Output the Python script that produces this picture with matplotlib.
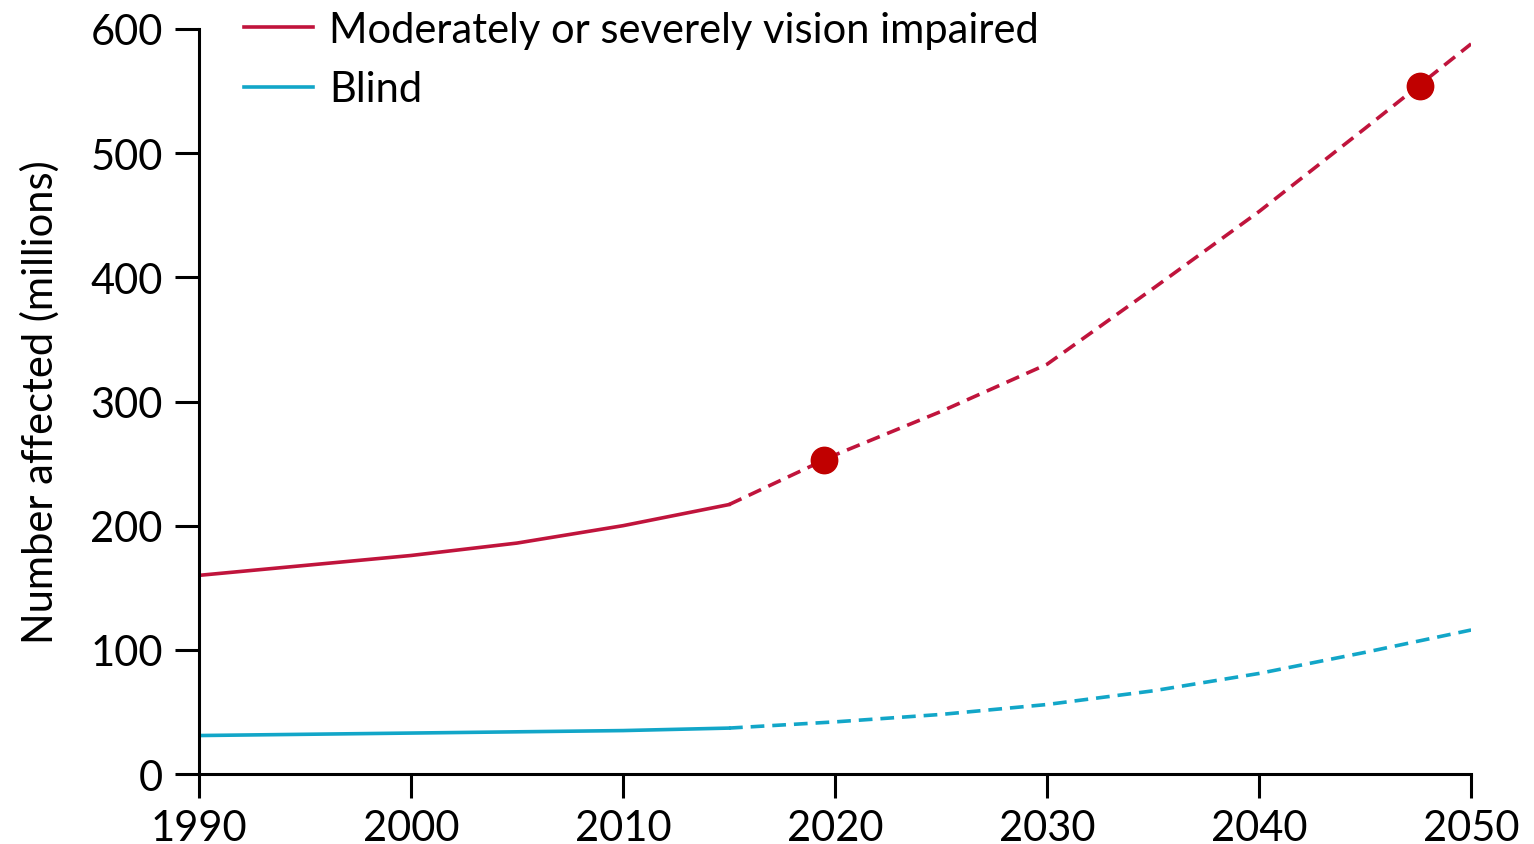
#!/usr/bin/env python3
"""
Global vision impairment: estimated and projected number affected, 1990-2050.
"""

import matplotlib
matplotlib.use("Agg")
import matplotlib.pyplot as plt

# Estimated (solid) and projected (dashed) values, millions
years_est = [1990, 1995, 2000, 2005, 2010, 2015]
mvi_est = [160, 168, 176, 186, 200, 217]
blind_est = [31, 32, 33, 34, 35, 37]

years_proj = [2015, 2020, 2025, 2030, 2035, 2040, 2045, 2050]
mvi_proj = [217, 257, 292, 330, 391, 453, 520, 588]
blind_proj = [37, 42, 48, 56, 67, 81, 98, 116]

# Highlighted points on the projection
point_years = [2019.5, 2047.6]
point_values = [253, 554]

x_ticks = [1990, 2000, 2010, 2020, 2030, 2040, 2050]
y_ticks = [0, 100, 200, 300, 400, 500, 600]

RED = "#C0143C"
BLUE = "#12A6C8"
DOT = "#C00000"

plt.rcParams["font.family"] = ["Lato", "DejaVu Sans"]

fig = plt.figure(figsize=(15.34, 8.45), dpi=100)
ax = fig.add_axes([0.1297, 0.0828, 0.8293, 0.8817])

lw = 2.6
dash = (0, (3.8, 2.2))
ax.plot(years_est, mvi_est, color=RED, lw=lw, label="Moderately or severely vision impaired")
ax.plot(years_proj, mvi_proj, color=RED, lw=lw, linestyle=dash)
ax.plot(years_est, blind_est, color=BLUE, lw=lw, label="Blind")
ax.plot(years_proj, blind_proj, color=BLUE, lw=lw, linestyle=dash)
ax.plot(point_years, point_values, "o", color=DOT, markersize=19, zorder=5)

ax.set_xlim(1990, 2050)
ax.set_ylim(0, 600)
ax.set_xticks(x_ticks)
ax.set_yticks(y_ticks)

for side in ["top", "right"]:
    ax.spines[side].set_visible(False)
for side in ["left", "bottom"]:
    ax.spines[side].set_linewidth(2.2)
ax.tick_params(axis="both", direction="out", length=17, width=2.2,
               labelsize=30)
ax.tick_params(axis="x", pad=8)
ax.tick_params(axis="y", pad=9)
ax.set_ylabel("Number affected (millions)", fontsize=30, labelpad=22)
for spine in ax.spines.values():
    spine.set_clip_on(False)

ax.legend(loc="upper left", bbox_to_anchor=(0.0225, 1.047), frameon=False,
          fontsize=30, handlelength=1.65, handletextpad=0.38,
          labelspacing=0.52, borderaxespad=0)

fig.savefig("out.png", dpi=100)
plt.close(fig)
